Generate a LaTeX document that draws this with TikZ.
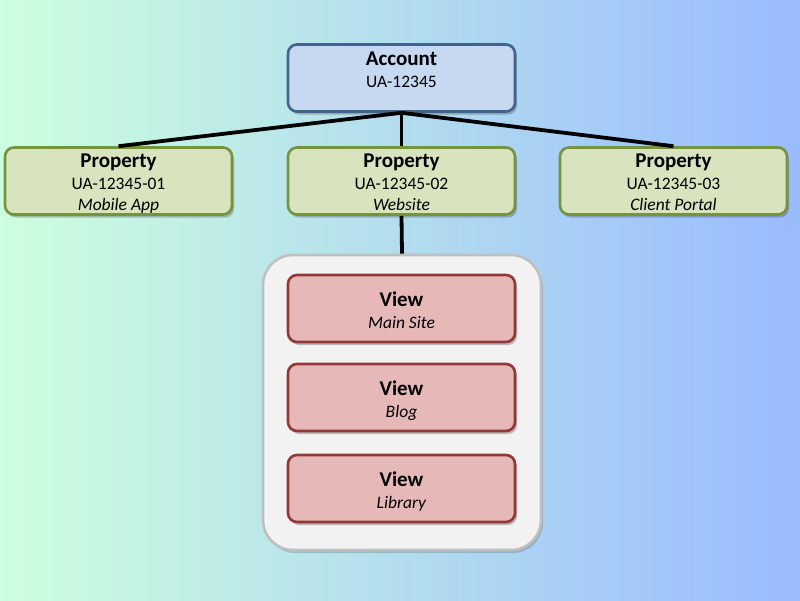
\documentclass[tikz,border=0pt]{standalone}
\usepackage{fontspec}
\setmainfont{Carlito}
\usetikzlibrary{shadows}
\definecolor{bgL}{HTML}{CCFFDD}
\definecolor{bgR}{HTML}{99BBFF}
\definecolor{accFill}{HTML}{C6D9F1}
\definecolor{accLine}{HTML}{41648F}
\definecolor{propFill}{HTML}{D7E4BD}
\definecolor{propLine}{HTML}{77933C}
\definecolor{viewFill}{HTML}{E6B9B8}
\definecolor{viewLine}{HTML}{953735}
\definecolor{contFill}{HTML}{F2F2F2}
\definecolor{contLine}{HTML}{BFBFBF}
\newcommand{\ttl}[1]{{\fontsize{21}{22}\selectfont\bfseries #1}}
\tikzset{
  box/.style={rounded corners=9pt, line width=2.6pt, minimum width=227pt, minimum height=67pt,
    inner sep=0pt,
    drop shadow={shadow xshift=2pt, shadow yshift=-3pt, opacity=0.35, fill=black!70}},
  txt/.style={align=center, font=\fontsize{17.5}{21}\selectfont, inner sep=0pt},
  accbox/.style={box, draw=accLine, fill=accFill},
  propbox/.style={box, draw=propLine, fill=propFill},
  viewbox/.style={box, draw=viewLine, fill=viewFill},
  contbox/.style={rounded corners=30pt, line width=2.6pt, draw=contLine, fill=contFill,
    minimum width=278pt, minimum height=295pt, inner sep=0pt,
    drop shadow={shadow xshift=2pt, shadow yshift=-3pt, opacity=0.3, fill=black!60}},
  conn/.style={line width=3.8pt, black}
}
\begin{document}
\begin{tikzpicture}[x=1pt,y=-1pt]
\shade[left color=bgL, right color=bgR, middle color=bgL!50!bgR] (0,0) rectangle (800,600);
\useasboundingbox (0,0) rectangle (800,600);
% container
\node[contbox] (cont) at (402,402.5) {};
% boxes
\node[accbox] (acc) at (401.5,78) {};
\node[propbox] (p1) at (118.5,181) {};
\node[propbox] (p2) at (401.5,181) {};
\node[propbox] (p3) at (673.5,181) {};
\node[viewbox] (v1) at (401.5,308.5) {};
\node[viewbox] (v2) at (401.5,397.5) {};
\node[viewbox] (v3) at (401.5,488.5) {};
% texts
\node[txt] (acct) at (401.5,69.5) {\ttl{Account}\\[1pt]UA-12345};
\node[txt] (p1t) at ([yshift=-4.4pt]p1.center) {\ttl{Property}\\[1pt]UA-12345-01\\\textit{Mobile App}\strut};
\node[txt] (p2t) at ([yshift=-4.4pt]p2.center) {\ttl{Property}\\[1pt]UA-12345-02\\\textit{Website}\strut};
\node[txt] (p3t) at ([yshift=-4.4pt]p3.center) {\ttl{Property}\\[1pt]UA-12345-03\\\textit{Client Portal}\strut};
\node[txt] (v1t) at ([yshift=-4.6pt]v1.center) {\ttl{View}\\[1pt]\textit{Main Site}\strut};
\node[txt] (v2t) at ([yshift=-4.6pt]v2.center) {\ttl{View}\\[1pt]\textit{Blog}\strut};
\node[txt] (v3t) at ([yshift=-4.6pt]v3.center) {\ttl{View}\\[1pt]\textit{Library}\strut};
% connectors
\draw[conn] (acc.south) -- (p1.north);
\draw[conn] (acc.south) -- (p2.north);
\draw[conn] (acc.south) -- (p3.north);
\draw[conn] (p2.south) -- (cont.north);
\end{tikzpicture}
\end{document}
